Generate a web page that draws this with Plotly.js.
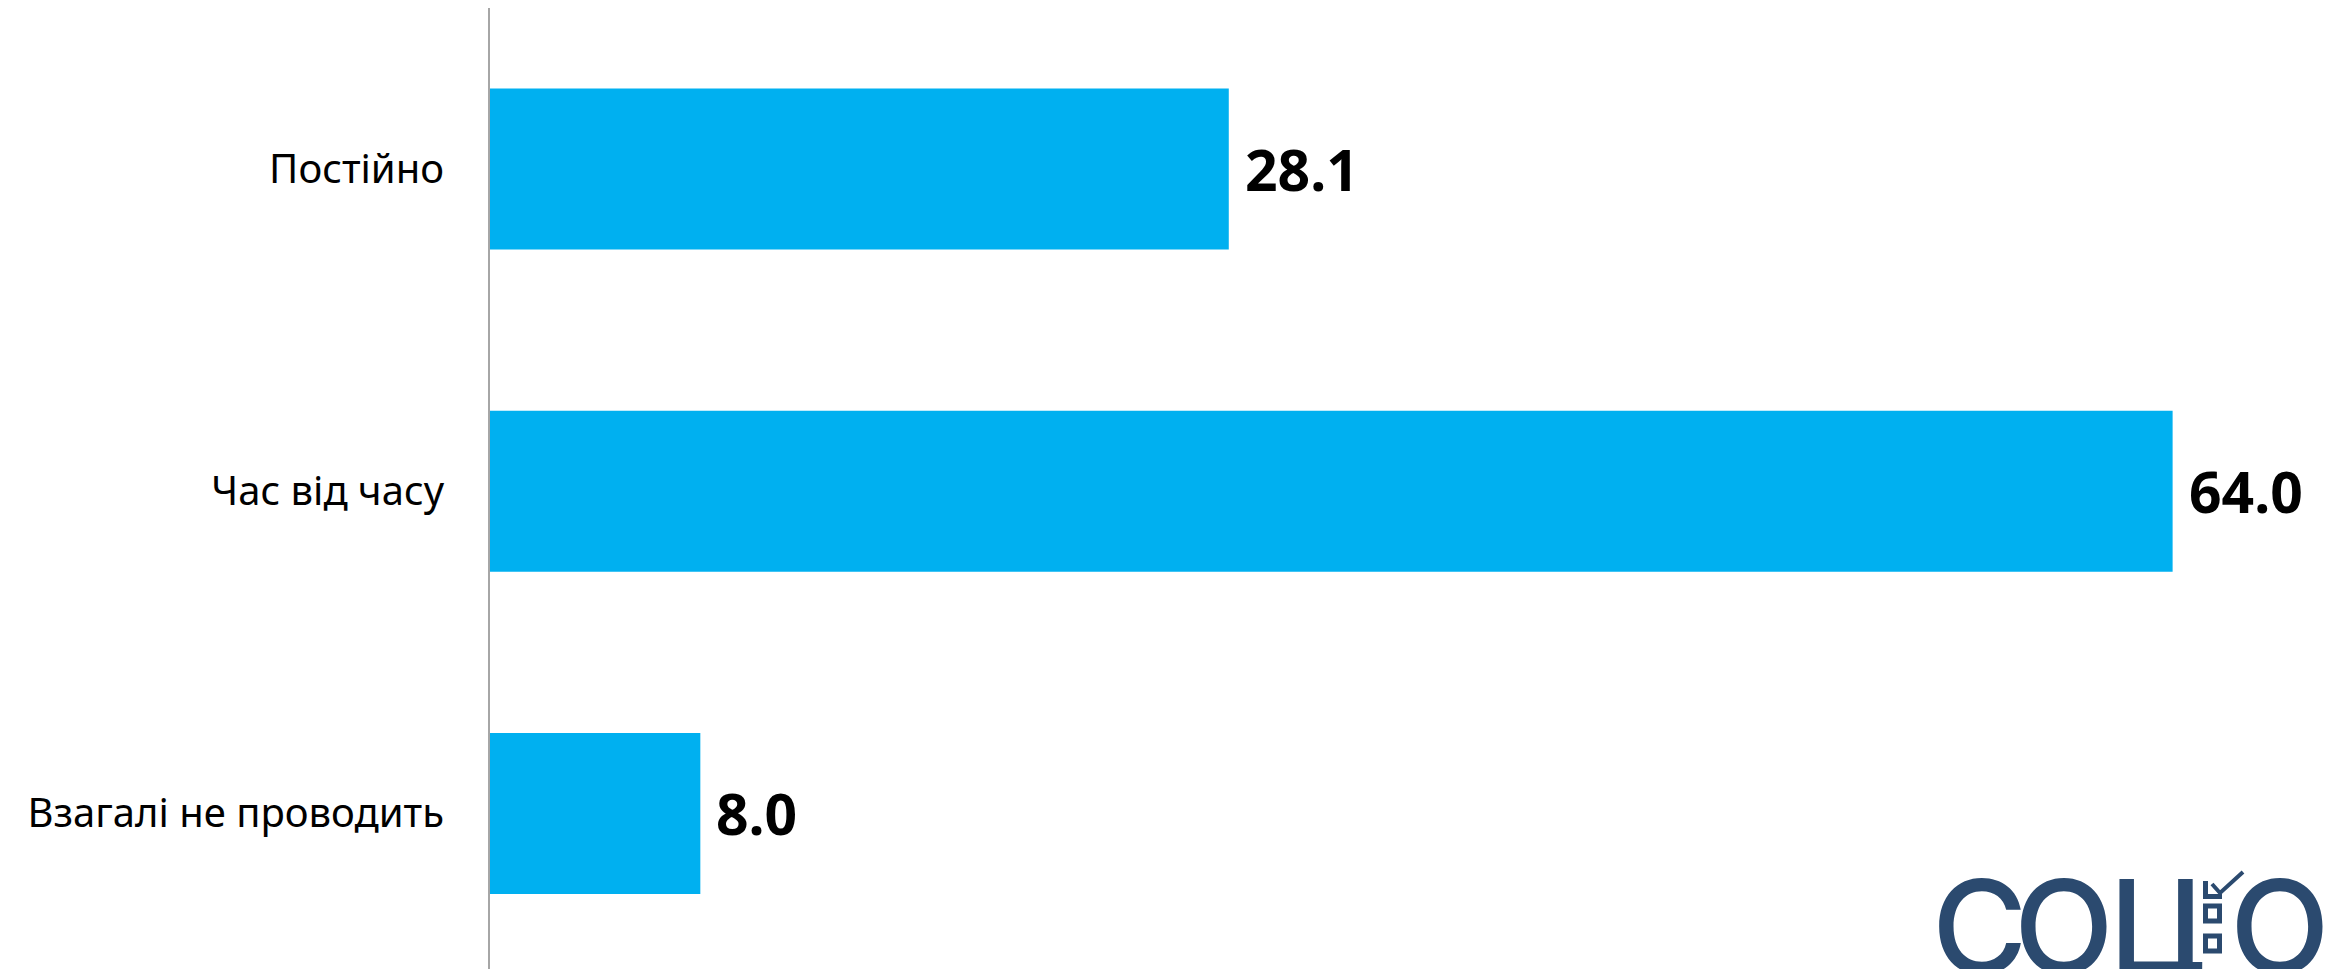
<!DOCTYPE html>
<html>
<head>
<meta charset="utf-8">
<script src="https://cdn.plot.ly/plotly-3.0.1.min.js"></script>
<style>
html,body{margin:0;padding:0;background:#fff;}
#chart{width:2328px;height:969px;}
</style>
</head>
<body>
<div id="chart"></div>
<script>
// ---- data ----
const categories = ["Постійно", "Час від часу", "Взагалі не проводить"];
const values = [28.1, 64.0, 8.0];
const valueLabels = ["28.1", "64.0", "8.0"];

// ---- layout helpers (pixel -> paper) ----
const W = 2328, H = 969;
const ML = 490, MR = 0, MT = 8, MB = 0;
const PW = W - ML - MR, PH = H - MT - MB;
const px = x => (x - ML) / PW;
const py = y => (H - MB - y) / PH;

const barColor = "#00B0F0";
const logoColor = "#2B4A6F";

const trace = {
  type: "bar",
  orientation: "h",
  x: values,
  y: categories,
  width: 0.5,
  marker: {color: barColor},
  hoverinfo: "none"
};

const annotations = categories.map((c, i) => ({
  x: values[i], y: c, xref: "x", yref: "y",
  text: "<b>" + valueLabels[i] + "</b>",
  showarrow: false, xanchor: "left", yanchor: "middle",
  xshift: 14,
  font: {family: "Noto Sans", size: 57, color: "#000"}
}));

// logo letters
const logoLetters = [["С", 1979], ["О", 2064], ["Ц", 2157], ["О", 2280]];
logoLetters.forEach(([t, cx]) => {
  annotations.push({
    x: px(cx), y: py(926), xref: "paper", yref: "paper",
    text: t, showarrow: false, xanchor: "center", yanchor: "middle",
    font: {family: "Inter", size: 130, color: logoColor, weight: 500}
  });
});

const shapes = [
  // L mark
  {type: "rect", xref: "paper", yref: "paper", x0: px(2203), x1: px(2208), y0: py(881), y1: py(899), fillcolor: logoColor, line: {width: 0}},
  {type: "rect", xref: "paper", yref: "paper", x0: px(2203), x1: px(2222), y0: py(894), y1: py(899), fillcolor: logoColor, line: {width: 0}},
  // check
  {type: "path", xref: "paper", yref: "paper",
   path: `M ${px(2212)},${py(884)} L ${px(2220)},${py(893)} L ${px(2243)},${py(872)}`,
   line: {color: logoColor, width: 4}},
  // boxes
  {type: "rect", xref: "paper", yref: "paper", x0: px(2205.5), x1: px(2219.5), y0: py(906), y1: py(921), line: {color: logoColor, width: 5}},
  {type: "rect", xref: "paper", yref: "paper", x0: px(2205.5), x1: px(2219.5), y0: py(936), y1: py(951), line: {color: logoColor, width: 5}}
];

const layout = {
  width: W, height: H,
  margin: {l: ML, r: MR, t: MT, b: MB, pad: 0},
  paper_bgcolor: "#fff", plot_bgcolor: "#fff",
  showlegend: false,
  xaxis: {range: [0, 69.91], visible: false, fixedrange: true},
  yaxis: {
    type: "category",
    categoryorder: "array", categoryarray: categories,
    range: [2.4826, -0.4996],
    showline: true, linecolor: "#A6A6A6", linewidth: 2,
    showgrid: false, zeroline: false, ticks: "",
    ticklabelstandoff: 36,
    tickfont: {family: "Noto Sans", size: 40, color: "#000"},
    fixedrange: true
  },
  annotations: annotations,
  shapes: shapes
};

Plotly.newPlot("chart", [trace], layout, {displayModeBar: false, staticPlot: true});
</script>
</body>
</html>
